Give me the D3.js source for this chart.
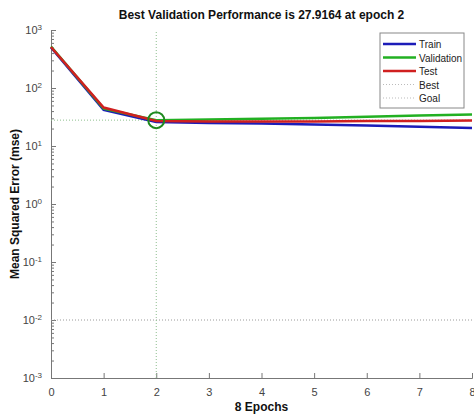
<!DOCTYPE html>
<html>
<head>
<meta charset="utf-8">
<script src="https://cdn.jsdelivr.net/npm/d3@7"></script>
<style>
  body { margin: 0; background: #fff; }
  svg { display: block; font-family: "Liberation Sans", Arial, sans-serif; }
</style>
</head>
<body>
<div id="chart"></div>
<script>
// epochs and performance values
const epochs = [0, 1, 2, 3, 4, 5, 6, 7, 8];
const trainPerf = [500, 42, 26, 25, 24.5, 23.5, 22.5, 21.5, 20.5];
const valPerf = [520, 44, 27.9164, 28.5, 29.5, 30.5, 32, 33.5, 35];
const testPerf = [510, 46, 27, 26.5, 26.5, 26.5, 27, 27, 27.5];
const bestEpoch = 2;
const bestPerf = 27.9164;
const goal = 0.01;
const yTicks = [1e-3, 1e-2, 1e-1, 1, 10, 100, 1000];
const xTicks = [0, 1, 2, 3, 4, 5, 6, 7, 8];
const legendNames = ['Train', 'Validation', 'Test', 'Best', 'Goal'];

const width = 474, height = 417;
const margin = { top: 30, right: 2, bottom: 39, left: 51 };

const svg = d3.select('#chart').append('svg')
    .attr('width', width)
    .attr('height', height);

const x = d3.scaleLinear().domain([0, 8]).range([margin.left, width - margin.right]);
const y = d3.scaleLog().domain([1e-3, 1e3]).range([height - margin.bottom, margin.top]);

// minor ticks on the log axis
const minor = [];
for (let e = -3; e < 3; e++) {
    for (let k = 2; k < 10; k++) minor.push(k * Math.pow(10, e));
}
svg.append('g')
    .attr('transform', `translate(${margin.left},0)`)
    .call(d3.axisLeft(y).tickValues(minor).tickSize(-3).tickFormat(''))
    .call(g => g.select('.domain').remove())
    .selectAll('line').attr('stroke', '#777');

// y axis
const yAxis = svg.append('g')
    .attr('transform', `translate(${margin.left},0)`)
    .call(d3.axisLeft(y).tickValues(yTicks).tickSize(-5).tickPadding(8).tickFormat(''));
yAxis.select('.domain').attr('stroke', '#777');
yAxis.selectAll('line').attr('stroke', '#777');
yAxis.selectAll('.tick').each(function(d) {
    const t = d3.select(this).select('text')
        .attr('fill', '#444')
        .style('font-size', '11px')
        .attr('x', -9);
    const e = Math.round(Math.log10(d));
    t.append('tspan').text('10');
    t.append('tspan').attr('dy', '-0.5em').style('font-size', '8px').text(e);
});

// x axis
const xAxis = svg.append('g')
    .attr('transform', `translate(0,${height - margin.bottom})`)
    .call(d3.axisBottom(x).tickValues(xTicks).tickSize(-5).tickPadding(10));
xAxis.select('.domain').attr('stroke', '#777');
xAxis.selectAll('line').attr('stroke', '#777');
xAxis.selectAll('text').attr('fill', '#444').style('font-size', '11px');

// goal and best lines
svg.append('line')
    .attr('x1', x(0)).attr('x2', x(8))
    .attr('y1', y(goal)).attr('y2', y(goal))
    .attr('stroke', '#9a9a9a').attr('stroke-width', 1).attr('stroke-dasharray', '1,2');
svg.append('line')
    .attr('x1', x(0)).attr('x2', x(8))
    .attr('y1', y(bestPerf)).attr('y2', y(bestPerf))
    .attr('stroke', '#8fbf8f').attr('stroke-width', 1).attr('stroke-dasharray', '1,2');
svg.append('line')
    .attr('x1', x(bestEpoch)).attr('x2', x(bestEpoch))
    .attr('y1', y(1e-3)).attr('y2', y(1e3))
    .attr('stroke', '#8fbf8f').attr('stroke-width', 1).attr('stroke-dasharray', '1,2');

// series
const line = d3.line().x((d, i) => x(epochs[i])).y(d => y(d));
const series = [
    { name: 'Train', values: trainPerf, color: '#1c1cb8' },
    { name: 'Validation', values: valPerf, color: '#22b022' },
    { name: 'Test', values: testPerf, color: '#d02020' }
];
series.forEach(s => {
    svg.append('path')
        .datum(s.values)
        .attr('d', line)
        .attr('fill', 'none')
        .attr('stroke', s.color)
        .attr('stroke-width', 2.5);
});

// best marker
svg.append('circle')
    .attr('cx', x(bestEpoch)).attr('cy', y(bestPerf))
    .attr('r', 8)
    .attr('fill', 'none')
    .attr('stroke', '#1f8a1f')
    .attr('stroke-width', 2);

// title and labels
svg.append('text')
    .attr('x', (x(0) + x(8)) / 2).attr('y', 19)
    .attr('text-anchor', 'middle')
    .style('font-size', '12px').style('font-weight', 'bold')
    .attr('fill', '#111')
    .text('Best Validation Performance is 27.9164 at epoch 2');
svg.append('text')
    .attr('x', (x(0) + x(8)) / 2).attr('y', 411)
    .attr('text-anchor', 'middle')
    .style('font-size', '12px').style('font-weight', 'bold')
    .attr('fill', '#111')
    .text('8 Epochs');
svg.append('text')
    .attr('transform', `translate(19,${(y(1e3) + y(1e-3)) / 2}) rotate(-90)`)
    .attr('text-anchor', 'middle')
    .style('font-size', '12px').style('font-weight', 'bold')
    .attr('fill', '#111')
    .text('Mean Squared Error  (mse)');

// legend
const legendStyles = [
    { color: '#1c1cb8', dash: null, w: 2.5 },
    { color: '#22b022', dash: null, w: 2.5 },
    { color: '#d02020', dash: null, w: 2.5 },
    { color: '#bbbbbb', dash: '1,2', w: 1 },
    { color: '#bbbbbb', dash: '1,2', w: 1 }
];
const legend = svg.append('g').attr('transform', 'translate(380,33)');
legend.append('rect')
    .attr('width', 84).attr('height', 75)
    .attr('fill', '#fff').attr('stroke', '#888').attr('stroke-width', 1);
legendNames.forEach((name, i) => {
    const ly = 11 + i * 13.5;
    legend.append('line')
        .attr('x1', 3).attr('x2', 36).attr('y1', ly).attr('y2', ly)
        .attr('stroke', legendStyles[i].color)
        .attr('stroke-width', legendStyles[i].w)
        .attr('stroke-dasharray', legendStyles[i].dash);
    legend.append('text')
        .attr('x', 39).attr('y', ly + 4)
        .style('font-size', '10px')
        .attr('fill', '#222')
        .text(name);
});
</script>
</body>
</html>
